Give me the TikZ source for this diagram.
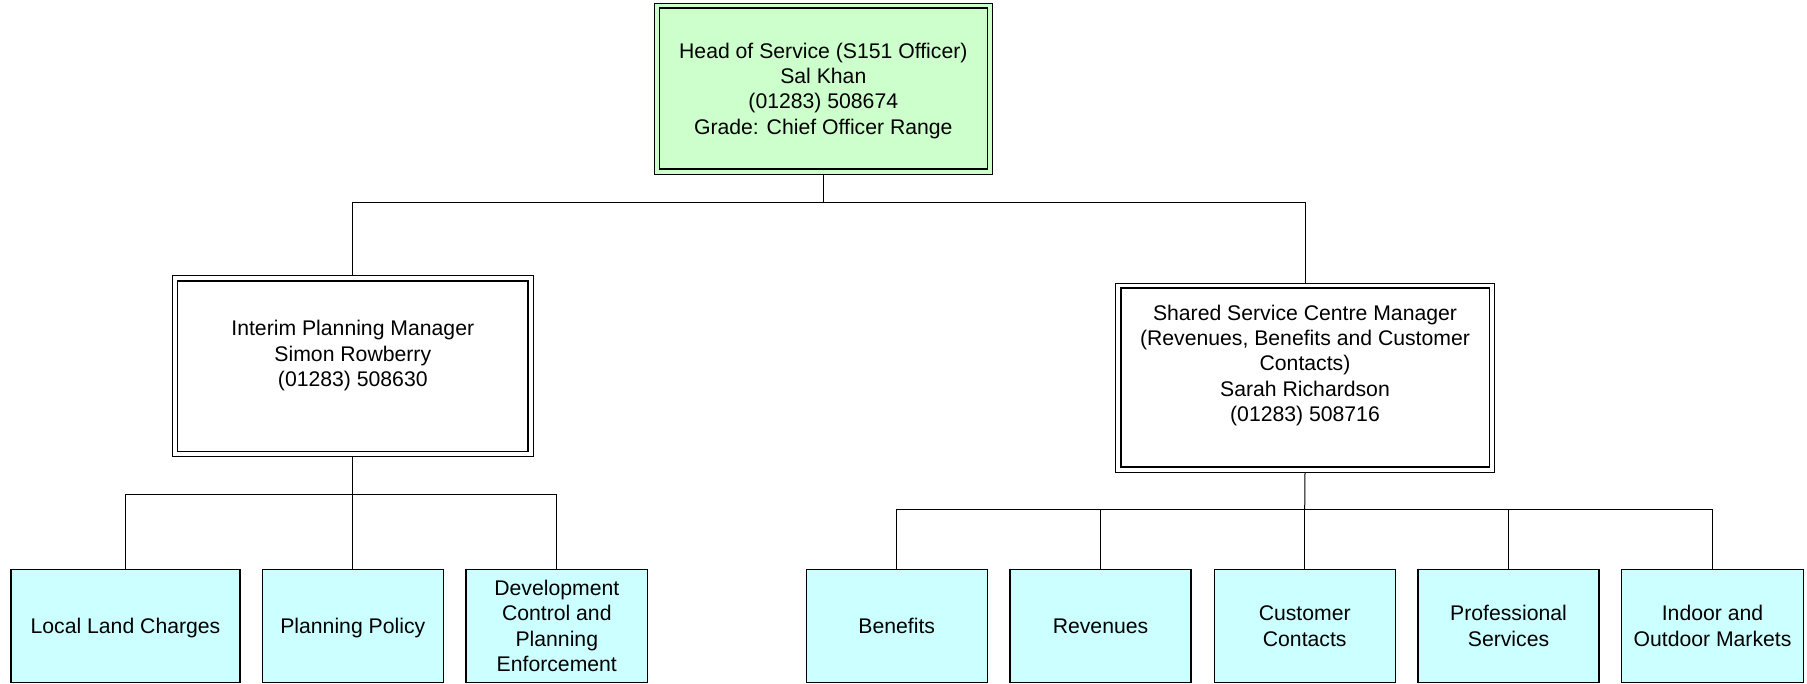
\documentclass[tikz,border=0pt]{standalone}
\usepackage{fontspec}
\setmainfont{Liberation Sans}
\definecolor{headgreen}{HTML}{CCFFCC}
\definecolor{unitcyan}{HTML}{CCFFFF}
\tikzset{
  txt/.style={font=\fontsize{21.2}{25.4}\selectfont, align=center, inner sep=0pt, outer sep=0pt},
  dblbox/.style={draw=black, line width=1pt, rectangle, inner sep=0pt, outer sep=0pt, txt},
  unitbox/.style={draw=black, line width=1.4pt, fill=unitcyan, rectangle, inner sep=0pt, outer sep=0pt,
    minimum width=181pt, minimum height=113pt, txt, text depth=0pt},
  conn/.style={draw=black, line width=1pt},
  innerline/.style={draw=black, line width=1.6pt}
}
\begin{document}
\begin{tikzpicture}[x=1pt, y=-1pt]
\useasboundingbox (0,0) rectangle (1807,683);
\clip (0,0) rectangle (1807,683);

% head of service
\node[dblbox, fill=headgreen, minimum width=338pt, minimum height=171pt, text depth=0pt] (head) at (823.3,88.5)
  {Head of Service (S151 Officer)\\Sal Khan\\(01283) 508674\\Grade: Chief Officer Range};
\draw[innerline] ([shift={(5,5)}]head.north west) rectangle ([shift={(-5,-5)}]head.south east);

% planning manager
\node[dblbox, fill=white, minimum width=360.6pt, minimum height=180.7pt] (plm) at (352.8,366.3) {};
\draw[innerline] ([shift={(5,5)}]plm.north west) rectangle ([shift={(-5,-5)}]plm.south east);
\node[txt] (plmtext) at ([yshift=10.5pt]plm.center)
  {Interim Planning Manager\\Simon Rowberry\\(01283) 508630};

% shared service manager
\node[dblbox, fill=white, minimum width=378.6pt, minimum height=189pt] (ssm) at (1305,377.5) {};
\draw[innerline] ([shift={(5,5)}]ssm.north west) rectangle ([shift={(-5,-5)}]ssm.south east);
\node[txt] (ssmtext) at ([yshift=12pt]ssm.center)
  {Shared Service Centre Manager\\(Revenues, Benefits and Customer\\Contacts)\\Sarah Richardson\\(01283) 508716};

% planning units
\node[unitbox, minimum width=229pt] (llc) at (125.5,626) {Local Land Charges};
\node[unitbox] (pp) at (352.8,626) {Planning Policy};
\node[unitbox, minimum width=181.7pt] (dc) at (556.8,626) {Development\\Control and\\Planning\\Enforcement};

% shared service units
\node[unitbox] (ben) at (896.7,626) {Benefits};
\node[unitbox] (rev) at (1100.5,626) {Revenues};
\node[unitbox] (cc) at (1304.7,626) {Customer\\Contacts};
\node[unitbox] (ps) at (1508.5,626) {Professional\\Services};
\node[unitbox, minimum width=181.6pt] (iom) at (1712.5,626) {Indoor and\\Outdoor Markets};

% bus coordinates
\coordinate (bus1) at (823.3,202.3);
\coordinate (bus2) at (352.8,494.3);
\coordinate (bus3) at (1304.7,509.3);

% connectors
\draw[conn] (head.south) -- (bus1);
\draw[conn] (plm.north) |- (bus1) -| (ssm.north);

\draw[conn] (plm.south) -- (bus2);
\draw[conn] (llc.north) |- (bus2) -| (dc.north);
\draw[conn] (pp.north) -- (bus2);

\draw[conn] (ssm.south) -- (bus3);
\draw[conn] (ben.north) |- (bus3) -| (iom.north);
\draw[conn] (rev.north) -- (rev.north |- bus3);
\draw[conn] (cc.north) -- (bus3);
\draw[conn] (ps.north) -- (ps.north |- bus3);
\end{tikzpicture}
\end{document}
